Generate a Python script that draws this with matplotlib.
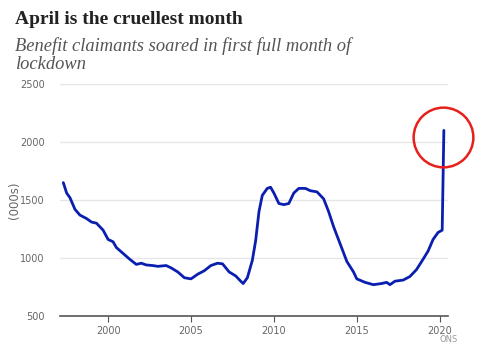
#!/usr/bin/python
#coding: utf8

##
## => Claimant count chart, April 2020 spike
##

import matplotlib
matplotlib.use("Agg")
import matplotlib.pyplot as plt

## data (thousands of claimants)
years = [1997.3, 1997.5, 1997.7, 1998.0, 1998.3, 1998.7, 1999.0, 1999.3, 1999.7,
         2000.0, 2000.3, 2000.5, 2000.9, 2001.3, 2001.7, 2002.0, 2002.3, 2002.7,
         2003.0, 2003.5, 2003.8, 2004.2, 2004.6, 2005.0, 2005.4, 2005.8, 2006.2,
         2006.6, 2006.9, 2007.3, 2007.7, 2008.0, 2008.15, 2008.4, 2008.7, 2008.9,
         2009.1, 2009.3, 2009.6, 2009.8, 2010.0, 2010.3, 2010.6, 2010.9, 2011.2,
         2011.5, 2011.9, 2012.2, 2012.6, 2013.0, 2013.3, 2013.6, 2014.0, 2014.4,
         2014.8, 2015.0, 2015.5, 2016.0, 2016.5, 2016.8, 2017.0, 2017.3, 2017.8,
         2018.2, 2018.6, 2019.0, 2019.3, 2019.6, 2019.9, 2020.15, 2020.25]
claimants = [1650, 1560, 1520, 1420, 1370, 1340, 1310, 1300, 1240,
             1160, 1140, 1090, 1040, 990, 945, 955, 940, 935,
             928, 935, 915, 880, 830, 820, 860, 890, 935,
             955, 950, 880, 845, 800, 780, 830, 980, 1150,
             1400, 1540, 1600, 1610, 1560, 1470, 1460, 1470, 1560,
             1600, 1600, 1580, 1570, 1510, 1400, 1270, 1120, 970,
             880, 820, 790, 770, 780, 790, 770, 800, 810,
             840, 900, 990, 1060, 1160, 1220, 1240, 2100]
x_ticks = [2000, 2005, 2010, 2015, 2020]
y_ticks = [500, 1000, 1500, 2000, 2500]
highlight = (2020.22, 2045)

## figure
fig = plt.figure(figsize=(4.85, 3.55), dpi=100)
ax = fig.add_axes([60/485, 39/355, 388/485, 232/355])

ax.plot(years, claimants, color="#0a1fb0", lw=2.0, solid_capstyle="round")
ax.plot([highlight[0]], [highlight[1]], marker="o", markersize=43,
        markerfacecolor="none", markeredgecolor="#e8201c", markeredgewidth=1.8,
        clip_on=False)

ax.set_xlim(1997.1, 2020.5)
ax.set_ylim(500, 2500)
ax.set_yticks(y_ticks)
ax.set_xticks(x_ticks)
ax.grid(axis="y", color="#e6e6e6", lw=1)
ax.set_axisbelow(True)
for s in ["top", "right", "left"]:
    ax.spines[s].set_visible(False)
ax.spines["bottom"].set_color("#555555")
ax.spines["bottom"].set_linewidth(1.2)
ax.tick_params(axis="y", length=0, labelsize=7, labelcolor="#666666", pad=11)
ax.tick_params(axis="x", length=4, color="#555555", labelsize=7,
               labelcolor="#666666")

## titles
fig.text(15/485, 1 - 20/355, "April is the cruellest month", fontsize=14,
         fontweight="bold", family="Liberation Serif", color="#222222",
         va="center")
fig.text(15/485, 1 - 55/355, "Benefit claimants soared in first full month of\nlockdown",
         fontsize=13.3, style="italic", family="Liberation Serif", color="#555555",
         va="center", linespacing=1.05)
fig.text(15/485, 1 - 200/355, "(000s)", fontsize=8.5, color="#666666",
         rotation=90, ha="center", va="center")
fig.text(440/485, 1 - 340/355, "ONS", fontsize=6, color="#999999", va="center")

fig.savefig("out.png", dpi=100)
